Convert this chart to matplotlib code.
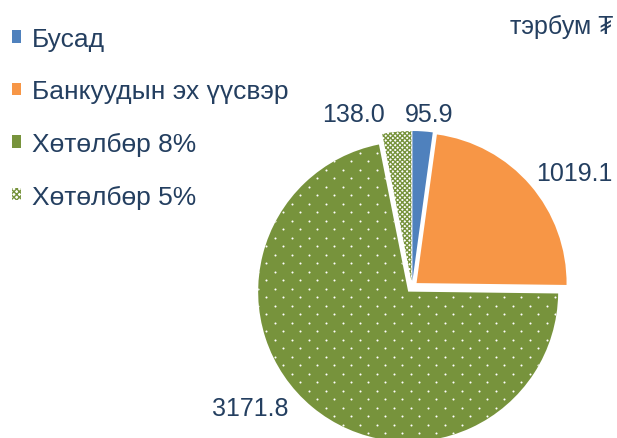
import matplotlib
matplotlib.use("Agg")
import matplotlib.pyplot as plt
from matplotlib.patches import Patch
import numpy as np

plt.rcParams['font.family'] = ['Liberation Sans', 'DejaVu Sans']
plt.rcParams['hatch.linewidth'] = 1.0

labels = ["Бусад", "Банкуудын эх үүсвэр", "Хөтөлбөр 8%", "Хөтөлбөр 5%"]
values = [95.9, 1019.1, 3171.8, 138.0]
value_text = ["95.9", "1019.1", "3171.8", "138.0"]
colors = ["#4F81BD", "#F79646", "#77933C", "#FFFFFF"]
hatches = [None, None, None, "xxxxxxx"]
hatch_colors = ["#4F81BD", "#F79646", "#77933C", "#77933C"]

text_color = "#243F60"

fig = plt.figure(figsize=(6.17, 4.39), dpi=100)
cx, cy, r = 412 / 617, 1 - 288 / 439, 150
ax = fig.add_axes((cx - r / 617, cy - r / 439, 2 * r / 617, 2 * r / 439))

wedges, _ = ax.pie(values, colors=colors, startangle=90, counterclock=False,
                   explode=[0.04] * 4, radius=1.0,
                   wedgeprops=dict(linewidth=0))
for w, h, hc in zip(wedges, hatches, hatch_colors):
    w.set_edgecolor(hc)
    w.set_linewidth(0)
    if h:
        w.set_hatch(h)
    w.set_clip_on(False)

# dotted fill texture for the 8% slice
step = 8.5 / r
px, py = [], []
for i, yy in enumerate(np.arange(-1.2, 1.2, step)):
    xs = np.arange(-1.2 + (i % 2) * step, 1.2, 2 * step)
    px.extend(xs)
    py.extend([yy] * len(xs))
dots = ax.scatter(px, py, s=2.2, color="white", linewidths=0, zorder=3)
dots.set_clip_path(wedges[2])

ax.set_xlim(-1, 1)
ax.set_ylim(-1, 1)
ax.set_aspect("equal")
ax.axis("off")

# value labels (blue, orange, green, checkered)
label_pos = [(429, 115), (574, 174), (250, 409), (353, 115)]
for txt, (lx, ly) in zip(value_text, label_pos):
    fig.text(lx / 617, 1 - ly / 439, txt, fontsize=18, color=text_color,
             ha="center", va="center")

fig.text(613 / 617, 1 - 27 / 439, "тэрбум ₮", fontsize=18, color=text_color,
         ha="right", va="center")

handles = [Patch(facecolor="#4F81BD", edgecolor="none"),
           Patch(facecolor="#F79646", edgecolor="none"),
           Patch(facecolor="#77933C", edgecolor="none"),
           Patch(facecolor="#FFFFFF", edgecolor="#77933C", hatch="xxxxxx", linewidth=0)]
leg = fig.legend(handles, labels, loc="upper left",
                 bbox_to_anchor=(12 / 617, 1 - 28 / 439),
                 frameon=False, fontsize=19, handlelength=0.34, handleheight=0.34,
                 handletextpad=0.4, labelspacing=1.08, borderaxespad=0, borderpad=0)
for t in leg.get_texts():
    t.set_color(text_color)

fig.savefig("out.png", dpi=100)
